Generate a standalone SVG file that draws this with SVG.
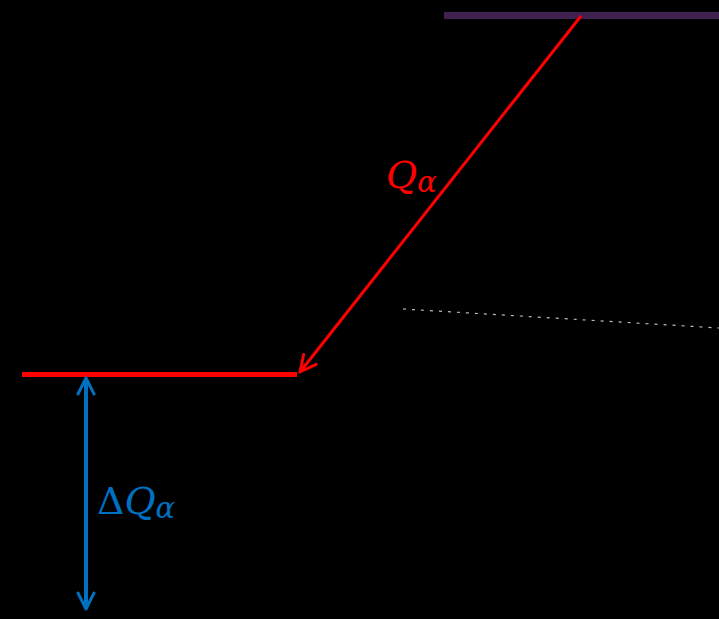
<svg xmlns="http://www.w3.org/2000/svg" width="719" height="619" viewBox="0 0 719 619">
<defs>
<style>
.lbl{font-family:"DejaVu Serif","Liberation Serif",serif;font-style:italic}
</style>
<marker id="ar" viewBox="0 0 20 20" refX="18" refY="10" markerWidth="20" markerHeight="20" markerUnits="userSpaceOnUse" orient="auto">
<path d="M2,2 L18,10 L2,18" fill="none" stroke="#ff0000" stroke-width="3" stroke-linecap="round" stroke-linejoin="round"/>
</marker>
<marker id="ab" viewBox="0 0 20 20" refX="18" refY="10" markerWidth="20" markerHeight="20" markerUnits="userSpaceOnUse" orient="auto-start-reverse">
<path d="M2,2 L18,10 L2,18" fill="none" stroke="#0070c0" stroke-width="3" stroke-linecap="round" stroke-linejoin="round"/>
</marker>
</defs>
<rect width="719" height="619" fill="#000"/>
<g id="levels">
<line x1="444" y1="15.5" x2="719" y2="15.5" stroke="#40204f" stroke-width="7"/>
<line x1="22" y1="374.5" x2="297" y2="374.5" stroke="#ff0000" stroke-width="5"/>
<line x1="403" y1="309" x2="719" y2="328" stroke="#bbbbbb" stroke-width="1.2" stroke-dasharray="3 6"/>
</g>
<g id="connectors">
<line x1="581" y1="16" x2="300" y2="372" stroke="#ff0000" stroke-width="3" marker-end="url(#ar)"/>
<line x1="86" y1="378" x2="86" y2="609" stroke="#0070c0" stroke-width="4" marker-start="url(#ab)" marker-end="url(#ab)"/>
</g>
<g id="labels">
<text class="lbl" x="386" y="188" font-size="38" fill="#ff0000">Q<tspan font-size="29" dy="4">α</tspan></text>
<text class="lbl" x="97" y="514" font-size="38" fill="#0070c0"><tspan font-style="normal">Δ</tspan>Q<tspan font-size="29" dy="4">α</tspan></text>
</g>
</svg>
